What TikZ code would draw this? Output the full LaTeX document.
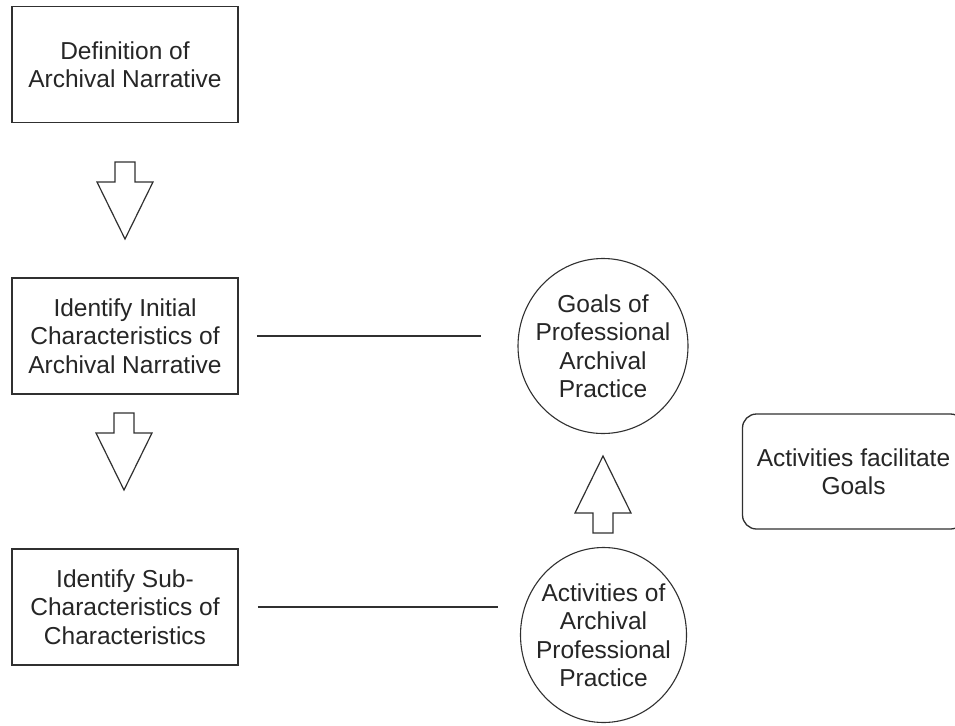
\documentclass[tikz,border=0pt]{standalone}
\usepackage{fontspec}
\setmainfont{Liberation Sans}
\usetikzlibrary{shapes.geometric,calc}
\definecolor{ink}{HTML}{262626}
\definecolor{edge}{HTML}{303030}
\tikzset{
  every node/.style={font=\fontsize{24.5}{28.5}\selectfont, text=ink, align=center},
  stepbox/.style={draw=edge, line width=1.8pt, rectangle, minimum width=226pt, minimum height=116pt, inner sep=0pt},
  goalellipse/.style={draw=edge, line width=1.1pt, ellipse, minimum width=170pt, minimum height=175pt, inner xsep=-12pt, inner ysep=0pt},
  notebox/.style={draw=edge, line width=1.3pt, rectangle, rounded corners=14pt, minimum width=222pt, minimum height=115pt, inner sep=0pt},
  link/.style={draw=edge, line width=1.6pt},
  blockarrow/.style={draw=edge, line width=1.2pt, fill=white, line join=miter},
  blockdown/.pic={\path[blockarrow] (-10,0) -- (10,0) -- (10,-20) -- (28,-20) -- (0,-77) -- (-28,-20) -- (-10,-20) -- cycle;}
}
\begin{document}
\begin{tikzpicture}[x=1pt,y=1pt]
\useasboundingbox[fill=white] (0,0) rectangle (955,-725);
\begin{scope}
\clip (0,0) rectangle (955,-725);

% left column of steps
\node[stepbox] (def) at (125,-64.5) {Definition of\\Archival Narrative};
\node[stepbox] (init) at (125,-336) {Identify Initial\\Characteristics of\\Archival Narrative};
\node[stepbox] (sub) at (125,-607) {Identify Sub-\\Characteristics of\\Characteristics};

% practice ellipses
\node[goalellipse] (goals) at (603,-346) {Goals of\\Professional\\Archival\\Practice};
\node[goalellipse, minimum width=166pt] (acts) at (603.5,-635) {Activities of\\Archival\\Professional\\Practice};

% side note
\node[notebox] (fac) at (853.5,-471.5) {Activities facilitate\\Goals};

% block arrows
\pic at (125,-162) {blockdown};
\pic at (124,-413) {blockdown};
\pic[rotate=180] at (603,-533) {blockdown};

% connectors, kept level with the step boxes
\draw[link] ($(init.east)+(18,0)$) -- ($(init.east -| goals.west)+(-36,0)$);
\draw[link] ($(sub.east)+(19,0)$) -- ($(sub.east -| acts.west)+(-22,0)$);
\end{scope}
\end{tikzpicture}
\end{document}
